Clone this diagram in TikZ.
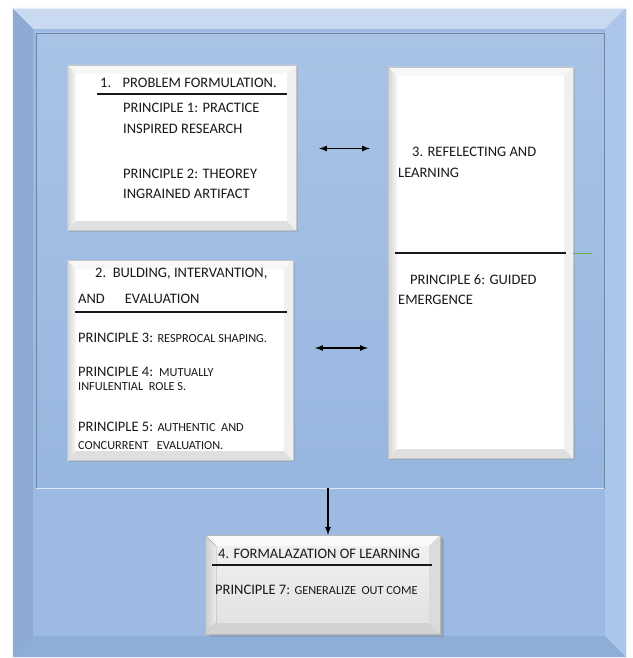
\documentclass[tikz,border=0pt]{standalone}
\usepackage{fontspec}
\setmainfont{Carlito}
\usetikzlibrary{arrows,shadows}

\definecolor{framebg}{HTML}{9CBAE2}
\definecolor{frametop}{HTML}{C9DAF0}
\definecolor{frameleft}{HTML}{8DAAD2}
\definecolor{framebot}{HTML}{8EAED8}
\definecolor{frameright}{HTML}{ABC6EA}
\definecolor{innertop}{HTML}{A9C3E7}
\definecolor{innerbot}{HTML}{97B6DF}
\definecolor{innerline}{HTML}{6E86A6}
\definecolor{tinygreen}{HTML}{6AAE45}

\newcommand{\smtxt}{\fontsize{12.3}{15}\selectfont}

\tikzset{
  bevel/.style n args={5}{path picture={
    \fill[#2] (path picture bounding box.north west) -- (path picture bounding box.north east)
      -- ([shift={(-#1,-#1)}]path picture bounding box.north east) -- ([shift={(#1,-#1)}]path picture bounding box.north west) -- cycle;
    \fill[#3] (path picture bounding box.north west) -- ([shift={(#1,-#1)}]path picture bounding box.north west)
      -- ([shift={(#1,#1)}]path picture bounding box.south west) -- (path picture bounding box.south west) -- cycle;
    \fill[#4] (path picture bounding box.south west) -- ([shift={(#1,#1)}]path picture bounding box.south west)
      -- ([shift={(-#1,#1)}]path picture bounding box.south east) -- (path picture bounding box.south east) -- cycle;
    \fill[#5] (path picture bounding box.south east) -- ([shift={(-#1,#1)}]path picture bounding box.south east)
      -- ([shift={(-#1,-#1)}]path picture bounding box.north east) -- (path picture bounding box.north east) -- cycle;
  }},
  whitebox/.style={rectangle, inner sep=0pt, fill=white, draw=gray!45, line width=0.4pt,
    drop shadow={opacity=0.25, shadow xshift=2pt, shadow yshift=-2pt},
    bevel={9pt}{gray!6}{{left color=gray!35, right color=gray!5}}{gray!25}{gray!12}},
  txt/.style={anchor=base west, inner sep=0pt, font=\fontsize{14.5}{20}\selectfont, text=black!90},
  rule/.style={line width=1.8pt, black!90},
  link/.style={<->, >=latex, line width=1.6pt},
}

\begin{document}
\begin{tikzpicture}[x=1pt, y=-1pt]
	\useasboundingbox[fill=white] (0,0) rectangle (632,658);
	% frames
	\node[rectangle, inner sep=0pt, minimum width=614pt, minimum height=649pt, fill=framebg, draw=white!80!framebg,
		bevel={21pt}{frametop}{frameleft}{framebot}{frameright}] (outer) at (319,332.5) {};
	\node[rectangle, inner sep=0pt, minimum width=568pt, minimum height=455pt, top color=innertop, bottom color=innerbot,
		draw=innerline, line width=0.8pt] (frame) at (320,260.5) {};
	\draw[white!60!innertop, line width=1.2pt] (frame.south west) -- (frame.south east);

	% boxes
	\node[whitebox, minimum width=229pt, minimum height=165pt] (b1) at (181.5,147.5) {};
	\node[whitebox, minimum width=226pt, minimum height=200pt] (b2) at (180,360) {};
	\node[whitebox, minimum width=185pt, minimum height=391pt] (b3) at (480.5,262.5) {};
	\node[rectangle, inner sep=0pt, minimum width=235pt, minimum height=99pt, top color=gray!10, bottom color=gray!24,
		draw=gray!55, line width=0.4pt, drop shadow={opacity=0.35, shadow xshift=4pt, shadow yshift=-3pt},
		bevel={11pt}{gray!4}{{left color=gray!40, right color=gray!15}}{gray!35}{gray!28}] (b4) at (322.5,584.5) {};

	% box 1
	\node[txt] (h1) at (100,88) {1.\hspace{11.5pt}PROBLEM FORMULATION.};
	\draw[rule] (97,94) -- (287,94);
	\node[txt] (p1a) at (123,113) {PRINCIPLE 1: PRACTICE};
	\node[txt] (p1b) at (123,134) {INSPIRED RESEARCH};
	\node[txt] (p2a) at (123,178) {PRINCIPLE 2: THEOREY};
	\node[txt] (p2b) at (123,198) {INGRAINED ARTIFACT};

	% box 2
	\node[txt] (h2a) at (95,277) {2.\ \ BULDING, INTERVANTION,};
	\node[txt] (h2b) at (78,303) {AND\hspace{20pt}EVALUATION};
	\draw[rule] (75,312) -- (287,312);
	\node[txt] (p3) at (78,342) {PRINCIPLE 3: {\smtxt RESPROCAL SHAPING.}};
	\node[txt] (p4a) at (78,376) {PRINCIPLE 4:\hspace{6pt}{\smtxt MUTUALLY}};
	\node[txt] (p4b) at (78,390) {\smtxt INFULENTIAL\ \ ROLE S.};
	\node[txt] (p5a) at (78,431) {PRINCIPLE 5: {\smtxt AUTHENTIC\ \ AND}};
	\node[txt] (p5b) at (78,449) {\smtxt CONCURRENT\ \ \ EVALUATION.};

	% box 3
	\node[txt] (h3a) at (412,157) {3. REFELECTING AND};
	\node[txt] (h3b) at (398,177) {LEARNING};
	\draw[rule] (395,253) -- (566,253);
	\draw[tinygreen, line width=0.8pt] ([yshift=9.5pt]b3.east) -- +(19,0);
	\node[txt] (p6a) at (410,284) {PRINCIPLE 6: GUIDED};
	\node[txt] (p6b) at (398,304) {EMERGENCE};

	% box 4
	\node[txt] (h4) at (218,558) {4. FORMALAZATION OF LEARNING};
	\draw[rule] (212,565) -- (432,565);
	\node[txt] (p7) at (215,594) {PRINCIPLE 7: {\smtxt GENERALIZE\ \ OUT COME}};

	% links
	\draw[link, shorten <=23pt, shorten >=18pt] ([yshift=-1pt]b1.east) -- ([yshift=-1pt]b1.east -| b3.west);
	\draw[link, shorten <=22pt, shorten >=20pt] ([yshift=12pt]b2.east) -- ([yshift=12pt]b2.east -| b3.west);
	\draw[link, -latex] ([xshift=5.5pt]b4.north |- frame.south) -- ([xshift=5.5pt]b4.north);
\end{tikzpicture}
\end{document}
